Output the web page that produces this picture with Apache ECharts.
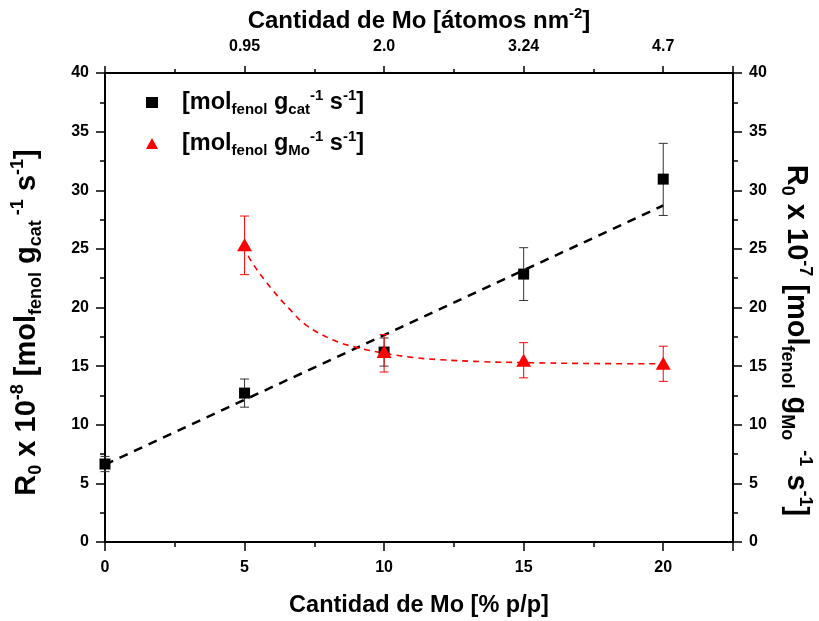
<!DOCTYPE html>
<html><head><meta charset="utf-8">
<script src="https://cdn.jsdelivr.net/npm/echarts@6/dist/echarts.min.js"></script>
<style>html,body{margin:0;padding:0;background:#fff}#c{width:819px;height:621px}</style>
</head><body><div id="c"></div>
<script>
// ---- data ----
const xCat = [0, 5, 10, 15, 20];
const rateCat = [6.65, 12.7, 16.2, 22.85, 30.95];
const rateCatLow = [6.0, 11.5, 15.0, 20.6, 27.85];
const rateCatHigh = [7.3, 13.9, 17.4, 25.1, 34.0];
const xMo = [5, 10, 15, 20];
const rateMo = [25.35, 16.25, 15.5, 15.25];
const rateMoLow = [22.8, 14.5, 14.0, 13.7];
const rateMoHigh = [27.8, 17.7, 17.0, 16.7];
const fitLineX = [0, 20];
const fitLineY = [6.6, 28.7];
const fitCurveX = [5, 5.2, 6, 6.6, 7.2, 8.2, 9, 10, 11, 12, 13.5, 15, 17.5, 20];
const fitCurveY = [25.3, 24.1, 21.5, 19.9, 18.5, 17.2, 16.6, 16.1, 15.75, 15.55, 15.38, 15.3, 15.22, 15.2];
const topTickPos = [5, 10, 15, 20];
const topTickLabels = ['0.95', '2.0', '3.24', '4.7'];

const F = '"Liberation Sans", Arial, sans-serif';
function richSet(fs, sp) {
  return {
    n: {fontSize: fs, fontWeight: 'bold', fontFamily: F, color: '#000', lineHeight: Math.round(fs * 1.25)},
    sub: {fontSize: Math.round(fs * 0.62), fontWeight: 'bold', fontFamily: F, color: '#000', verticalAlign: 'bottom', lineHeight: Math.round(fs * 0.62)},
    sup: {fontSize: Math.round(fs * 0.62), fontWeight: 'bold', fontFamily: F, color: '#000', verticalAlign: 'top', lineHeight: Math.round(fs * 0.62)},
    sp: {width: sp || 0}
  };
}
const labelStyle = {fontSize: 16, fontWeight: 'bold', fontFamily: F, color: '#000'};

const chart = echarts.init(document.getElementById('c'), null, {renderer: 'canvas'});

function errRender(color) {
  return function (params, api) {
    const x = api.value(0), lo = api.value(1), hi = api.value(2);
    const p1 = api.coord([x, lo]), p2 = api.coord([x, hi]);
    const w = 4.5;
    const st = {stroke: color, lineWidth: 1};
    return {type: 'group', children: [
      {type: 'line', shape: {x1: p1[0], y1: p1[1], x2: p2[0], y2: p2[1]}, style: st},
      {type: 'line', shape: {x1: p1[0] - w, y1: p1[1], x2: p1[0] + w, y2: p1[1]}, style: st},
      {type: 'line', shape: {x1: p2[0] - w, y1: p2[1], x2: p2[0] + w, y2: p2[1]}, style: st}
    ]};
  };
}

const commonY = {
  type: 'value', min: 0, max: 40, interval: 5,
  axisLine: {show: true, onZero: false, lineStyle: {color: '#000', width: 2}},
  axisTick: {show: true, length: 9, lineStyle: {color: '#000', width: 1.5}},
  minorTick: {show: true, splitNumber: 2, length: 5, lineStyle: {color: '#000', width: 1.5}},
  splitLine: {show: false},
  axisLabel: Object.assign({margin: 16}, labelStyle),
  nameLocation: 'middle'
};
const xBase = {
  type: 'value', min: 0, max: 22.5, splitLine: {show: false}
};

chart.setOption({
  animation: false,
  backgroundColor: '#fff',
  grid: {left: 105, right: 86, top: 73, bottom: 79, containLabel: false, outerBoundsMode: 'none'},
  legend: {
    orient: 'vertical', left: 141, top: 83, itemGap: 12, itemWidth: 12, itemHeight: 11,
    data: [{name: 'cat', icon: 'rect'}, {name: 'mo', icon: 'triangle'}],
    formatter: function (name) {
      if (name === 'cat') return '{sp|}{n|[mol}{sub|fenol}{n| g}{sub|cat}{sup|-1}{n| s}{sup|-1}{n|]}';
      return '{sp|}{n|[mol}{sub|fenol}{n| g}{sub|Mo}{sup|-1}{n| s}{sup|-1}{n|]}';
    },
    textStyle: {rich: richSet(23.5, 19)}
  },
  xAxis: [
    Object.assign({}, xBase, {
      position: 'bottom', interval: 5,
      axisLine: {show: true, onZero: false, lineStyle: {color: '#000', width: 2}},
      axisTick: {show: true, length: 9, lineStyle: {color: '#000', width: 1.5}},
      axisLabel: Object.assign({margin: 18, formatter: v => (v % 5 === 0 ? String(v) : '')}, labelStyle),
      name: 'Cantidad de Mo [% p/p]', nameLocation: 'middle', nameGap: 52,
      nameTextStyle: {fontSize: 23.5, fontWeight: 'bold', fontFamily: F, color: '#000'}
    }),
    Object.assign({}, xBase, {
      position: 'top', interval: 5,
      axisLine: {show: true, onZero: false, lineStyle: {color: '#000', width: 2}},
      axisTick: {show: true, length: 7, lineStyle: {color: '#000', width: 1.5}},
      axisLabel: Object.assign({margin: 18, formatter: function (v) {
        const i = topTickPos.indexOf(v); return i >= 0 ? topTickLabels[i] : '';
      }}, labelStyle),
      name: '{n|Cantidad de Mo [átomos nm}{sup|-2}{n|]}', nameLocation: 'middle', nameGap: 37,
      nameTextStyle: {rich: richSet(24)}
    }),
    Object.assign({}, xBase, {
      position: 'bottom', interval: 2.5,
      axisLine: {show: false, onZero: false},
      axisTick: {show: true, length: 5, lineStyle: {color: '#000', width: 1.5}},
      axisLabel: {show: false}
    }),
    Object.assign({}, xBase, {
      position: 'top', interval: 2.5,
      axisLine: {show: false, onZero: false},
      axisTick: {show: true, length: 4, lineStyle: {color: '#000', width: 1.5}},
      axisLabel: {show: false}
    })
  ],
  yAxis: [
    Object.assign({}, commonY, {
      position: 'left',
      name: '{n|R}{sub|0}{n| x 10}{sup|-8}{n| [mol}{sub|fenol}{n| g}{sub|cat}{sup| -1}{n| s}{sup|-1}{n|]}',
      nameRotate: 90, nameGap: 60,
      nameTextStyle: {rich: richSet(29), padding: [0, 30, 0, 0]}
    }),
    Object.assign({}, commonY, {
      position: 'right',
      name: '{n|R}{sub|0}{n| x 10}{sup|-7}{n| [mol}{sub|fenol}{n| g}{sub|Mo}{sup|  -1}{n| s}{sup|-1}{n|]}',
      nameRotate: -90, nameGap: 45,
      nameTextStyle: {rich: richSet(29), padding: [0, 0, 0, 66]}
    })
  ],
  series: [
    {
      name: 'fitLine', type: 'line', xAxisIndex: 0, yAxisIndex: 0, symbol: 'none', z: 2,
      lineStyle: {color: '#000', width: 2.5, type: [9, 7]},
      data: fitLineX.map((x, i) => [x, fitLineY[i]])
    },
    {
      name: 'fitCurve', type: 'line', xAxisIndex: 0, yAxisIndex: 1, symbol: 'none', smooth: 0.4, z: 2,
      lineStyle: {color: '#ff0000', width: 1.6, type: [6, 5]},
      data: fitCurveX.map((x, i) => [x, fitCurveY[i]])
    },
    {
      name: 'catErr', type: 'custom', xAxisIndex: 0, yAxisIndex: 0, z: 3,
      renderItem: errRender('#333'), encode: {x: 0, y: [1, 2]},
      data: xCat.map((x, i) => [x, rateCatLow[i], rateCatHigh[i]])
    },
    {
      name: 'cat', type: 'scatter', xAxisIndex: 0, yAxisIndex: 0, symbol: 'rect', symbolSize: 11, z: 4,
      itemStyle: {color: '#000', opacity: 1},
      data: xCat.map((x, i) => [x, rateCat[i]])
    },
    {
      name: 'moErr', type: 'custom', xAxisIndex: 0, yAxisIndex: 1, z: 5,
      renderItem: errRender('#ff0000'), encode: {x: 0, y: [1, 2]},
      data: xMo.map((x, i) => [x, rateMoLow[i], rateMoHigh[i]])
    },
    {
      name: 'mo', type: 'scatter', xAxisIndex: 0, yAxisIndex: 1, symbol: 'triangle', symbolSize: [15, 13], z: 6,
      itemStyle: {color: '#ff0000', opacity: 1},
      data: xMo.map((x, i) => [x, rateMo[i]])
    }
  ]
});
</script>
</body></html>
